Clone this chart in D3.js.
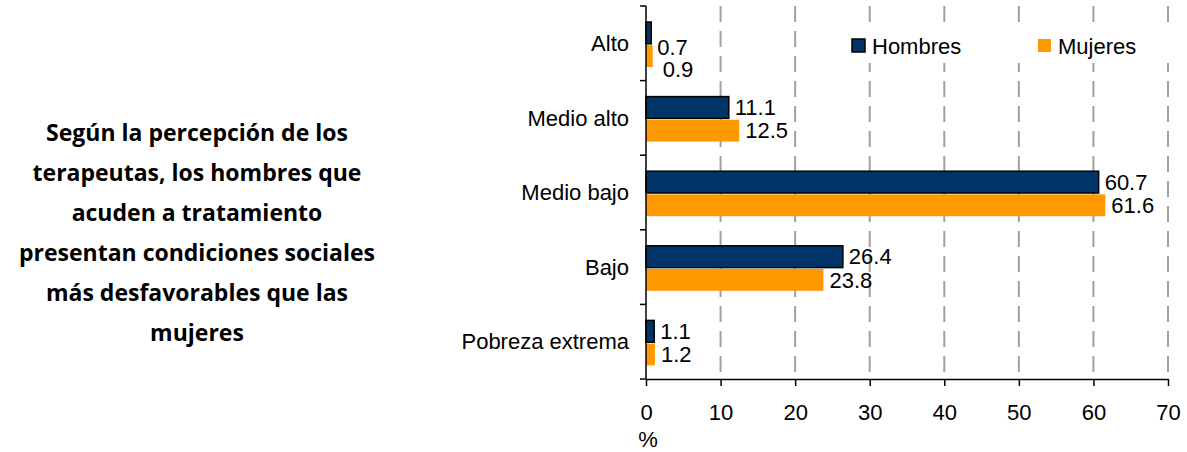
<!DOCTYPE html>
<html>
<head>
<meta charset="utf-8">
<script src="https://cdn.jsdelivr.net/npm/d3@7"></script>
<style>
  body { margin: 0; background: #fff; }
  svg { display: block; }
  text { font-family: "Liberation Sans", Arial, sans-serif; fill: #000; }
  .note { font-family: "Open Sans", Lato, sans-serif; font-weight: bold; }
</style>
</head>
<body>
<div id="chart"></div>
<script>
var svgWidth = 1187;
var svgHeight = 452;

// data
var categories = ["Alto", "Medio alto", "Medio bajo", "Bajo", "Pobreza extrema"];
var seriesNames = ["Hombres", "Mujeres"];
var hombres = [0.7, 11.1, 60.7, 26.4, 1.1];
var mujeres = [0.9, 12.5, 61.6, 23.8, 1.2];
var xTicks = [0, 10, 20, 30, 40, 50, 60, 70];
var noteLines = [
  "Según la percepción de los",
  "terapeutas, los hombres que",
  "acuden a tratamiento",
  "presentan condiciones sociales",
  "más desfavorables que las",
  "mujeres"
];

var colors = { Hombres: "#003366", Mujeres: "#ff9900" };
var fontSize = "22px";

var rows = categories.map(function(c, i) {
  return { cat: c, Hombres: hombres[i], Mujeres: mujeres[i] };
});

var svg = d3.select("#chart")
  .append("svg")
  .attr("width", svgWidth)
  .attr("height", svgHeight);

// scales
var x = d3.scaleLinear().domain([0, 70]).range([646, 1168]);
var y0 = d3.scaleBand().domain(categories).range([6, 379]);
var y1 = d3.scaleBand().domain(seriesNames).range([16, 61]).paddingInner(0.06);

// dashed grid lines
svg.append("g").selectAll("line")
  .data(xTicks.slice(1))
  .enter()
  .append("line")
  .attr("x1", d => x(d)).attr("x2", d => x(d))
  .attr("y1", 6).attr("y2", 379)
  .attr("stroke", "#a0a0a0")
  .attr("stroke-width", 2)
  .attr("stroke-dasharray", "16,9");

// bars
var groups = svg.append("g").selectAll("g")
  .data(rows)
  .enter()
  .append("g")
  .attr("transform", d => `translate(0, ${y0(d.cat)})`);

groups.selectAll("rect")
  .data(d => seriesNames.map(s => ({ s: s, v: d[s] })))
  .enter()
  .append("rect")
  .attr("x", x(0))
  .attr("y", d => y1(d.s))
  .attr("width", d => x(d.v) - x(0))
  .attr("height", y1.bandwidth())
  .attr("fill", d => colors[d.s])
  .attr("stroke", d => d.s === "Hombres" ? "#000" : "none")
  .attr("stroke-width", 1.5);

// value labels (first row is nudged down like the original)
groups.selectAll("text")
  .data((d, i) => seriesNames.map(s => ({ s: s, v: d[s], first: i === 0 })))
  .enter()
  .append("text")
  .attr("x", d => x(d.v) + (d.first && d.s === "Mujeres" ? 10 : 6))
  .attr("y", d => y1(d.s) + y1.bandwidth() / 2 + (d.first ? (d.s === "Hombres" ? 14 : 13) : 0))
  .attr("dy", "0.35em")
  .style("font-size", fontSize)
  .text(d => d.v.toFixed(1));

// y axis
svg.append("line")
  .attr("x1", x(0)).attr("x2", x(0))
  .attr("y1", 6).attr("y2", 379)
  .attr("stroke", "#000").attr("stroke-width", 1.5);

var yTickPos = categories.map(c => y0(c)).concat([y0.range()[1]]);
svg.append("g").selectAll("line")
  .data(yTickPos)
  .enter()
  .append("line")
  .attr("x1", x(0) - 6).attr("x2", x(0))
  .attr("y1", d => d).attr("y2", d => d)
  .attr("stroke", "#000").attr("stroke-width", 1.5);

svg.append("g").selectAll("text")
  .data(categories)
  .enter()
  .append("text")
  .attr("x", 629)
  .attr("y", d => y0(d) + y0.bandwidth() / 2)
  .attr("dy", "0.35em")
  .attr("text-anchor", "end")
  .style("font-size", fontSize)
  .text(d => d);

// x axis
var bottomAxis = d3.axisBottom(x).tickValues(xTicks).tickSize(7).tickSizeOuter(0).tickPadding(18);
var xAxisG = svg.append("g")
  .attr("transform", "translate(0, 379)")
  .call(bottomAxis);
xAxisG.select(".domain").attr("stroke", "#000").attr("stroke-width", 1.5);
xAxisG.selectAll(".tick line").attr("stroke", "#000").attr("stroke-width", 1.5);
xAxisG.selectAll(".tick text")
  .style("font-size", fontSize)
  .style("font-family", "'Liberation Sans', Arial, sans-serif")
  .attr("fill", "#000");

svg.append("text")
  .attr("x", 648)
  .attr("y", 447)
  .attr("text-anchor", "middle")
  .style("font-size", fontSize)
  .text("%");

// legend
svg.append("rect")
  .attr("x", 845).attr("y", 25)
  .attr("width", 328).attr("height", 38)
  .attr("fill", "#fff");

var legendX = [852, 1038];
var legend = svg.append("g").selectAll("g")
  .data(seriesNames)
  .enter()
  .append("g")
  .attr("transform", (d, i) => `translate(${legendX[i]}, 39)`);

legend.append("rect")
  .attr("width", 13).attr("height", 13)
  .attr("fill", d => colors[d])
  .attr("stroke", d => d === "Hombres" ? "#000" : "none")
  .attr("stroke-width", 1.5);

legend.append("text")
  .attr("x", 20)
  .attr("y", 7)
  .attr("dy", "0.35em")
  .style("font-size", fontSize)
  .text(d => d);

// side note
svg.append("g").selectAll("text")
  .data(noteLines)
  .enter()
  .append("text")
  .attr("class", "note")
  .attr("x", 197)
  .attr("y", (d, i) => 133 + i * 40)
  .attr("dy", "0.35em")
  .attr("text-anchor", "middle")
  .style("font-size", "23px")
  .text(d => d);
</script>
</body>
</html>
